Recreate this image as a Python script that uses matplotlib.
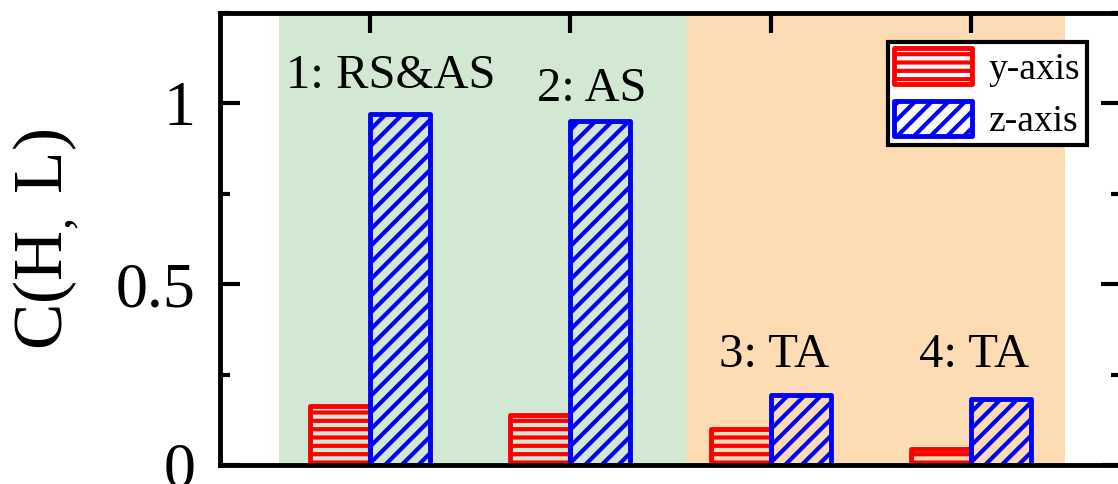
import matplotlib
matplotlib.use('Agg')
import matplotlib.pyplot as plt
from matplotlib.ticker import MultipleLocator, FuncFormatter

# ---- data ----
groups = [1, 2, 3, 4]
y_axis = [0.164, 0.139, 0.100, 0.044]
z_axis = [0.972, 0.950, 0.194, 0.183]
series_names = ['y-axis', 'z-axis']
group_labels = ['1: RS&AS', '2: AS', '3: TA', '4: TA']
label_x = [1.105, 2.107, 3.02, 4.015]
label_y = [1.042, 1.006, 0.272, 0.272]
yticks = [0, 0.5, 1]

plt.rcParams['font.family'] = ['Liberation Serif', 'DejaVu Serif']
plt.rcParams['mathtext.fontset'] = 'custom'
plt.rcParams['mathtext.rm'] = 'Liberation Serif'
plt.rcParams['hatch.linewidth'] = 3.0

fig = plt.figure(figsize=(11.18, 4.84), dpi=100)
ax = fig.add_axes([0.19678, 0.03926, 0.8059, 0.93388])

ax.axvspan(0.545, 2.58, color='#d3e8d3', lw=0, zorder=0)
ax.axvspan(2.58, 4.47, color='#fddcb3', lw=0, zorder=0)

w = 0.3
b1 = ax.bar([g - w / 2 for g in groups], y_axis, width=w, facecolor='none',
            edgecolor='#ff0000', hatch='--', linewidth=3.5, label=series_names[0], zorder=2)
b2 = ax.bar([g + w / 2 for g in groups], z_axis, width=w, facecolor='none',
            edgecolor='#0000ff', hatch='//', linewidth=3.5, label=series_names[1], zorder=2)
for p in list(b1) + list(b2):
    p.set_joinstyle('round')

for t, x, y in zip(group_labels, label_x, label_y):
    ax.text(x, y, t, ha='center', va='baseline', fontsize=35, zorder=3)

ax.set_xlim(0.25, 4.75)
ax.set_ylim(0, 1.25)
ax.set_xticks(groups)
ax.set_yticks(yticks)
ax.yaxis.set_minor_locator(MultipleLocator(0.25))
ax.yaxis.set_major_formatter(FuncFormatter(lambda v, p: '%g' % v))

ax.tick_params(which='major', direction='in', length=14.5, width=3,
               top=True, right=True, bottom=True, left=True,
               labelbottom=False, labelsize=46, pad=18)
ax.tick_params(which='minor', direction='in', length=7, width=3,
               left=True, right=True)
for s in ax.spines.values():
    s.set_linewidth(3.5)
    s.set_zorder(4)

ax.set_ylabel(r'$\mathregular{C(H_{,}\ L)}$', fontsize=50)
ax.yaxis.set_label_coords(-0.154, 0.5)

leg = ax.legend(loc='upper right', bbox_to_anchor=(0.962, 0.936), borderaxespad=0,
                fontsize=27, frameon=True, fancybox=False, edgecolor='black',
                framealpha=1, handlelength=2.08, handleheight=1.07,
                handletextpad=0.45, borderpad=0.17, labelspacing=0.37)
leg.get_frame().set_linewidth(3)
leg.set_zorder(5)
for h in leg.legend_handles:
    h.set_joinstyle('round')

fig.savefig('out.png', dpi=100)
